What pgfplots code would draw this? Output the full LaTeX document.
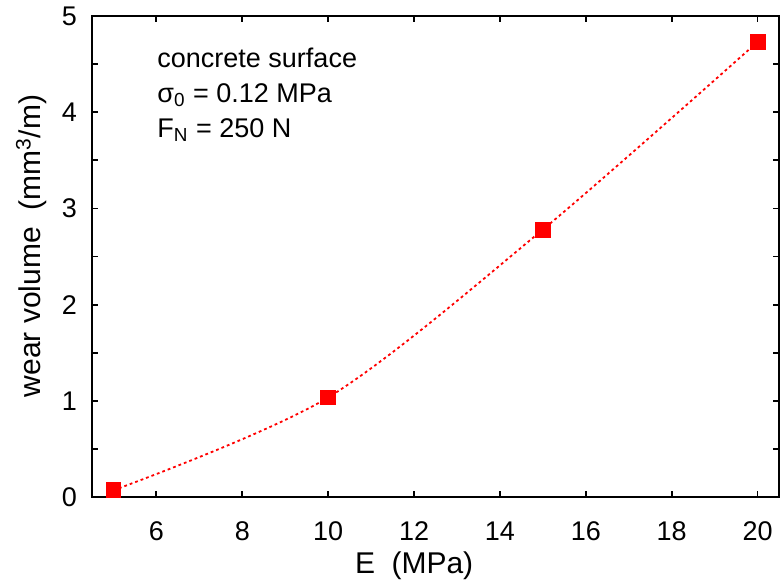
\documentclass[border=0pt]{standalone}
\usepackage{fontspec}
\setmainfont{Liberation Sans}
\usepackage{pgfplots}
\pgfplotsset{compat=1.18}

\definecolor{wearred}{RGB}{255,0,0}

\begin{document}
\begin{tikzpicture}[font=\fontsize{13.5}{16}\selectfont]
\begin{axis}[
    scale only axis,
    width=343.5pt, height=240.5pt,
    xmin=4.5, xmax=20.5,
    ymin=0, ymax=5,
    xtick={6,8,...,20},
    ytick={0,1,...,5},
    minor ytick={0.5,1.5,...,4.5},
    tick align=inside,
    major tick length=3pt,
    minor tick length=3pt,
    axis line style={line width=0.9pt},
    every tick/.style={line width=0.9pt, black},
    /pgf/number format/assume math mode=true,
    xticklabel style={yshift=-9pt},
    yticklabel style={xshift=-4pt},
    xlabel={E\hspace{4pt} (MPa)},
    ylabel={wear volume\hspace{4pt} (mm\textsuperscript{3}/m)},
    xlabel style={font=\fontsize{15}{18}\selectfont, at={(rel axis cs:0.469,-0.1)}, anchor=north},
    ylabel style={font=\fontsize{15}{18}\selectfont, at={(rel axis cs:-0.088,0.522)}, anchor=center},
    clip=false,
]
\addplot[wearred, line width=0.9pt, dash pattern=on 1.4pt off 1.5pt, smooth, tension=0.5]
    coordinates {(5,0.07) (10,1.035) (15,2.78) (20,4.73)};
\addplot[wearred, only marks, mark=square*, mark size=3.7pt]
    coordinates {(5,0.07) (10,1.035) (15,2.78) (20,4.73)};

\node[anchor=base west] at (axis cs:5.86,4.46) {concrete surface};
\node[anchor=base west] at (axis cs:5.86,4.10) {σ\textsubscript{0} = 0.12 MPa};
\node[anchor=base west] at (axis cs:5.86,3.74) {F\textsubscript{N} = 250 N};

\coordinate (bl) at (rel axis cs:-0.1339,-0.1788);
\coordinate (tr) at (rel axis cs:1.0029,1.0333);
\end{axis}
\pgfresetboundingbox
\path[use as bounding box] (bl) rectangle (tr);
\end{tikzpicture}
\end{document}
